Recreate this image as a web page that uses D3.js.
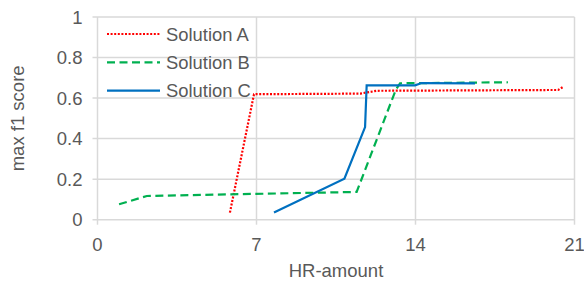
<!DOCTYPE html>
<html>
<head>
<meta charset="utf-8">
<script src="https://cdn.jsdelivr.net/npm/d3@7"></script>
<style>
  body { margin: 0; background: #fff; }
  text { font-family: "Liberation Sans", Arial, sans-serif; fill: #595959; }
</style>
</head>
<body>
<div class="chart"></div>
<script>
(function() {
  var xTicks = [0, 7, 14, 21];
  var yTicks = [0, 0.2, 0.4, 0.6, 0.8, 1];
  var seriesNames = ["Solution A", "Solution B", "Solution C"];
  var solutionA = [[5.83, 0.035], [6.89, 0.619], [11.56, 0.622], [12.29, 0.636], [20.28, 0.64], [20.51, 0.656]];
  var solutionB = [[0.95, 0.076], [2.17, 0.117], [11.41, 0.137], [13.14, 0.643], [13.32, 0.673], [18.07, 0.678]];
  var solutionC = [[7.77, 0.036], [10.87, 0.202], [11.78, 0.457], [11.85, 0.663], [13.98, 0.663], [14.27, 0.674], [16.62, 0.673]];

  var width = 584, height = 282;
  var margin = {left: 97.5, right: 9.5, top: 17, bottom: 62.3};
  var svg = d3.select(".chart").append("svg").attr("width", width).attr("height", height);

  var x = d3.scaleLinear().domain([0, 21]).range([margin.left, width - margin.right]);
  var y = d3.scaleLinear().domain([0, 1]).range([height - margin.bottom, margin.top]);

  var grid = "#d9d9d9";
  // horizontal grid
  svg.append("g").selectAll("line").data(yTicks).enter().append("line")
    .attr("x1", x(0) - 5).attr("x2", x(21))
    .attr("y1", function(d) { return y(d); }).attr("y2", function(d) { return y(d); })
    .style("stroke", grid).style("stroke-width", 1.5);
  // vertical grid
  svg.append("g").selectAll("line").data(xTicks).enter().append("line")
    .attr("y1", y(1)).attr("y2", y(0) + 5)
    .attr("x1", function(d) { return x(d); }).attr("x2", function(d) { return x(d); })
    .style("stroke", grid).style("stroke-width", 1.5);

  svg.append("g").selectAll("text").data(yTicks).enter().append("text")
    .attr("x", x(0) - 15).attr("y", function(d) { return y(d) + 6.5; })
    .attr("text-anchor", "end").style("font-size", "18.5px")
    .text(function(d) { return d3.format("~g")(d); });
  svg.append("g").selectAll("text").data(xTicks).enter().append("text")
    .attr("x", function(d) { return x(d); }).attr("y", y(0) + 31.3)
    .attr("text-anchor", "middle").style("font-size", "18.5px")
    .text(function(d) { return d; });

  svg.append("text").attr("x", x(10.5)).attr("y", 277).attr("text-anchor", "middle")
    .style("font-size", "18.5px").text("HR-amount");
  svg.append("text").attr("transform", "translate(24," + y(0.5) + ") rotate(-90)")
    .attr("text-anchor", "middle").style("font-size", "18.5px").text("max f1 score");

  var line = d3.line().x(function(d) { return x(d[0]); }).y(function(d) { return y(d[1]); });
  var styles = [
    {data: solutionA, color: "#ff0000", dash: "2,1.6"},
    {data: solutionB, color: "#00b050", dash: "8,4.5"},
    {data: solutionC, color: "#0070c0", dash: null}
  ];
  styles.forEach(function(s) {
    svg.append("path").attr("d", line(s.data)).style("fill", "none")
      .style("stroke", s.color).style("stroke-width", 2.2)
      .style("stroke-dasharray", s.dash);
  });

  var legend = svg.append("g");
  seriesNames.forEach(function(name, i) {
    var ly = 34 + i * 28.3;
    legend.append("line").attr("x1", 107).attr("x2", 160).attr("y1", ly).attr("y2", ly)
      .style("stroke", styles[i].color).style("stroke-width", 2.2)
      .style("stroke-dasharray", styles[i].dash);
    legend.append("text").attr("x", 166).attr("y", ly + 6.6)
      .style("font-size", "18.4px").text(name);
  });
})();
</script>
</body>
</html>
